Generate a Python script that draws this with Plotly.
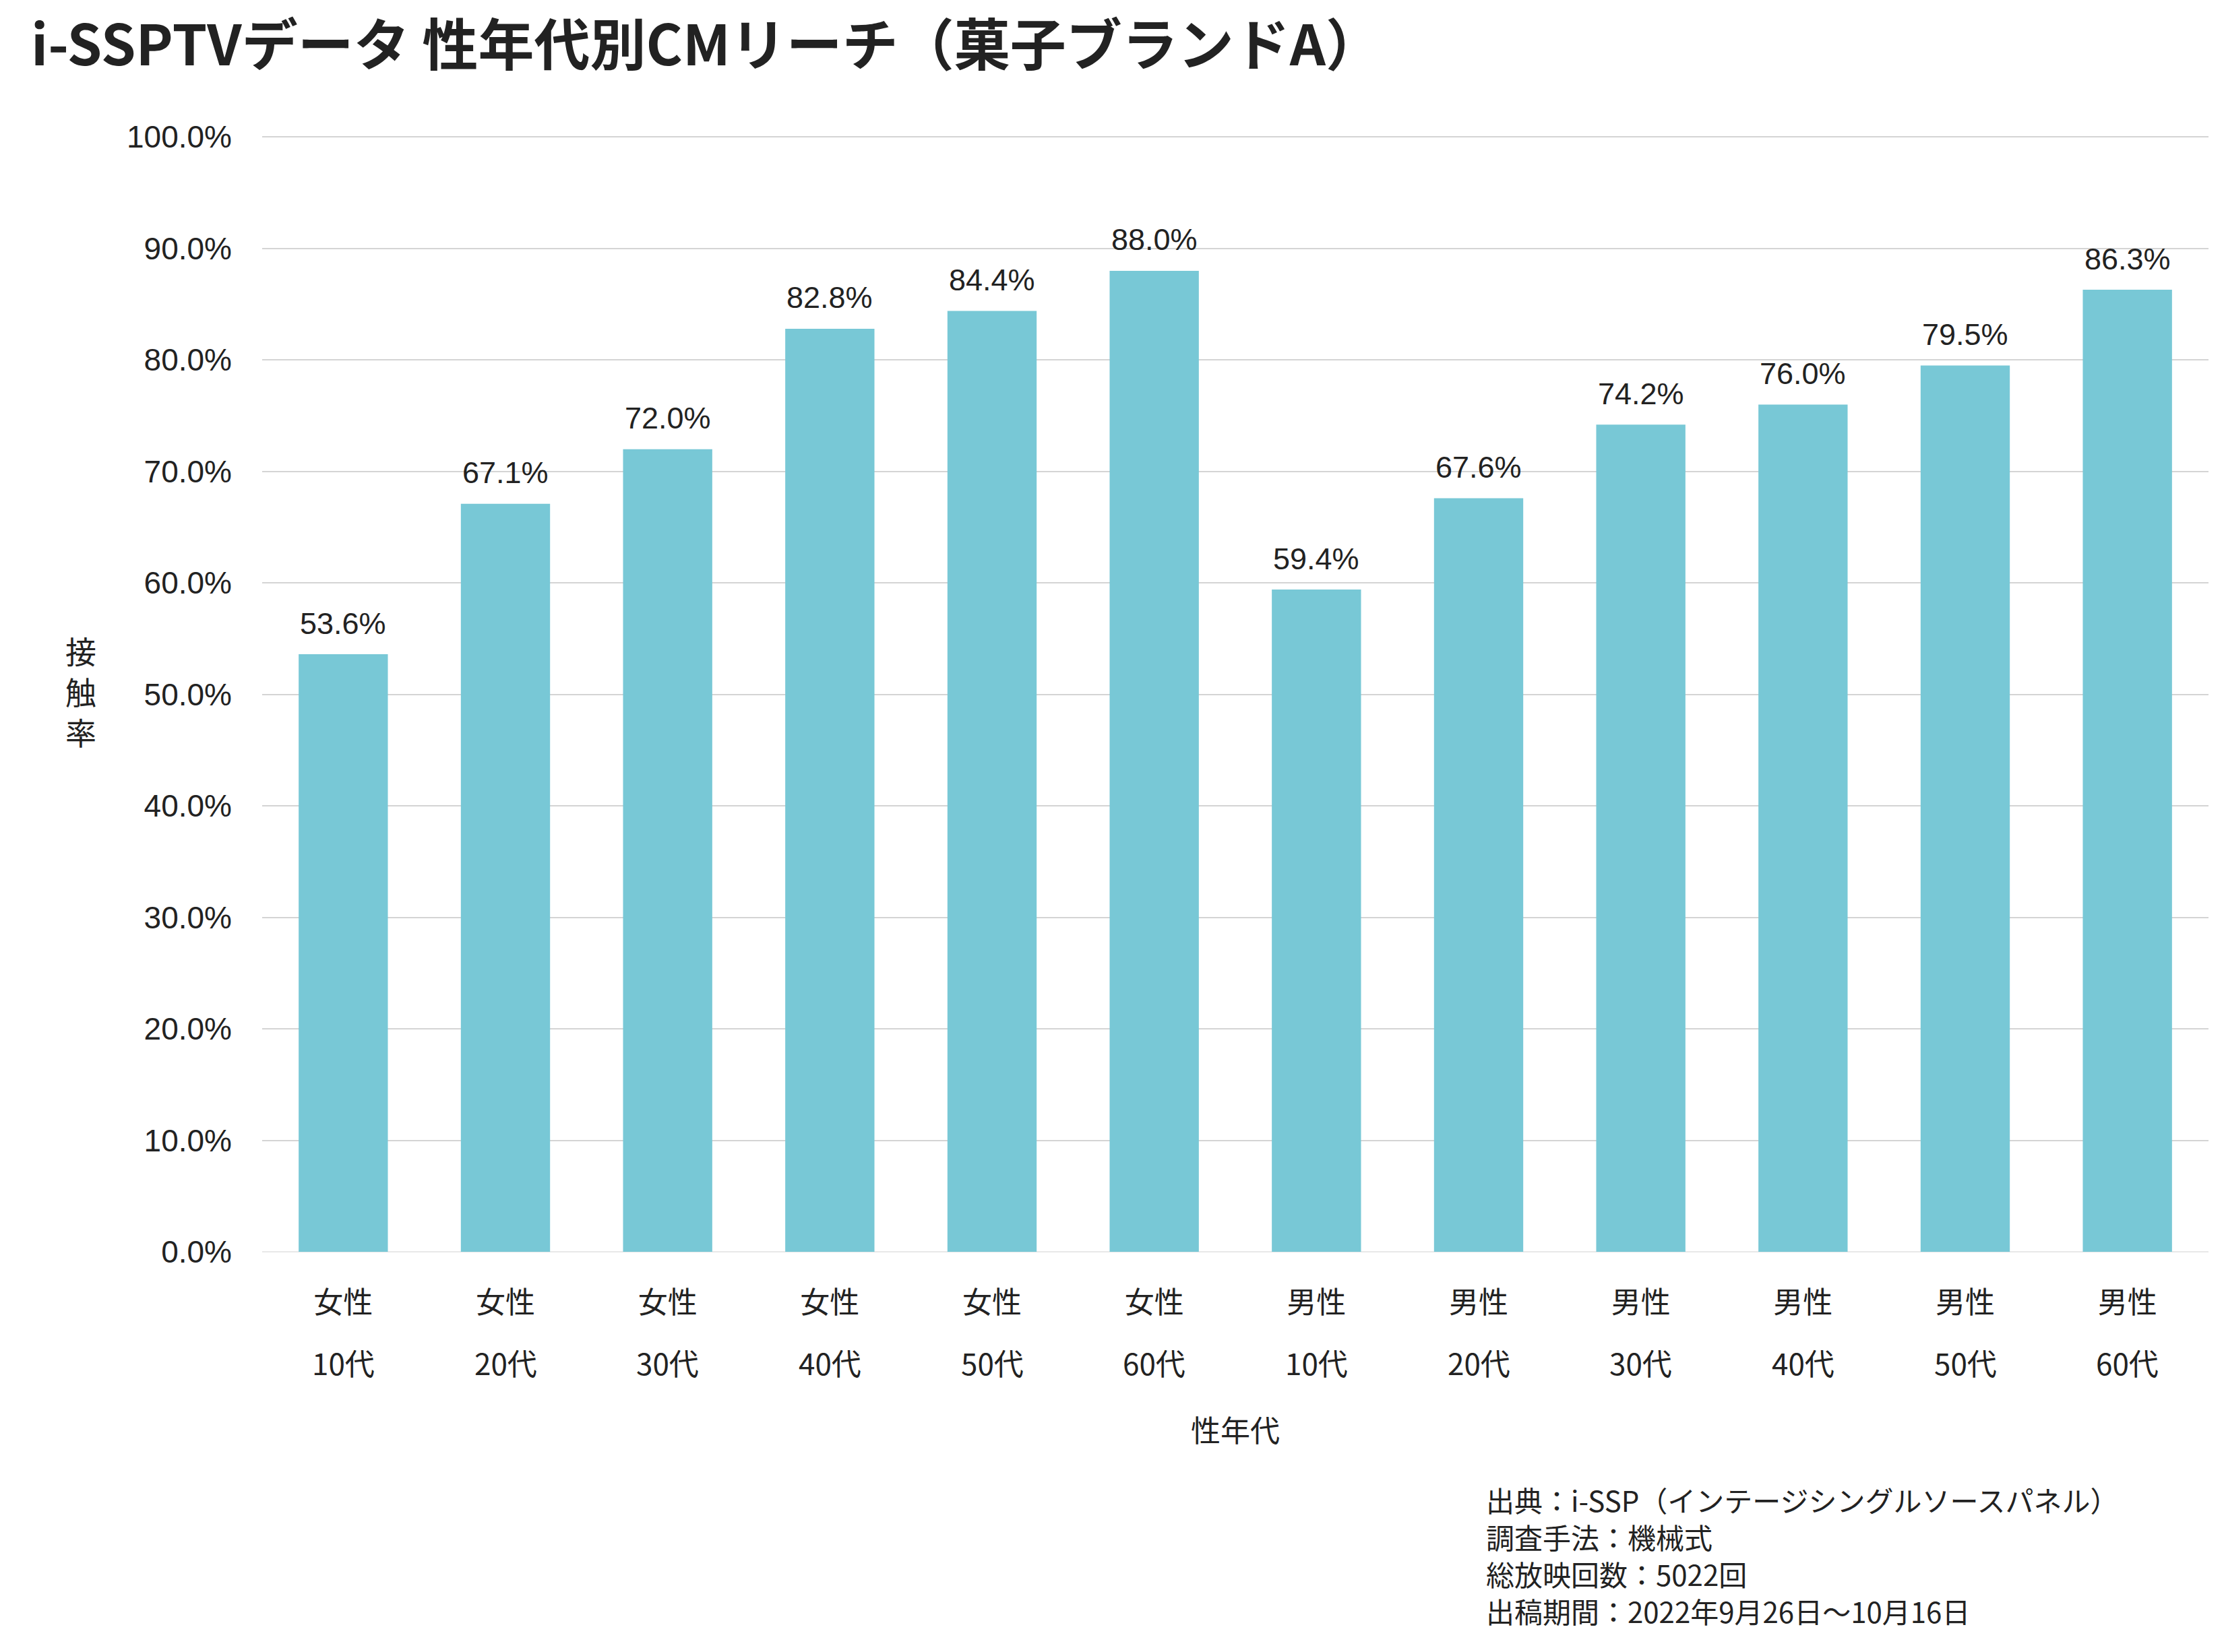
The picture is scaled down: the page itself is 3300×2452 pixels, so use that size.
import plotly.graph_objects as go

# ---- data ----
genders = ["女性", "女性", "女性", "女性", "女性", "女性",
           "男性", "男性", "男性", "男性", "男性", "男性"]
ages = ["10代", "20代", "30代", "40代", "50代", "60代",
        "10代", "20代", "30代", "40代", "50代", "60代"]
reach = [0.536, 0.671, 0.720, 0.828, 0.844, 0.880,
         0.594, 0.676, 0.742, 0.760, 0.795, 0.863]
y_ticks = [0.0, 0.1, 0.2, 0.3, 0.4, 0.5, 0.6, 0.7, 0.8, 0.9, 1.0]

title_text = "i-SSPTVデータ 性年代別CMリーチ（菓子ブランドA）"
x_title = "性年代"
y_title = "接触率"
footnote_lines = [
    "出典：i-SSP（インテージシングルソースパネル）",
    "調査手法：機械式",
    "総放映回数：5022回",
    "出稿期間：2022年9月26日～10月16日",
]

# ---- layout constants ----
W, H = 3300, 2452
L, R, T, B = 389, 23, 202, 594
plot_w = W - L - R
plot_h = H - T - B

def px_x(px):
    return (px - L) / plot_w

def px_y(py):
    return (H - B - py) / plot_h

cats = [f"{g}{a}" for g, a in zip(genders, ages)]

CJK = "Noto Sans CJK JP"
LAT = "Liberation Sans, Arial"
TXT = "#222222"
BAR = "#78C8D6"

fig = go.Figure()
fig.add_trace(go.Bar(
    x=cats, y=reach,
    marker=dict(color=BAR, line=dict(width=0)),
    width=0.55,
    hoverinfo="skip",
))

annotations = []
# value labels above bars
for c, v in zip(cats, reach):
    annotations.append(dict(
        x=c, y=v, xref="x", yref="y",
        text=f"{v*100:.1f}%", showarrow=False,
        yanchor="middle", yshift=46,
        font=dict(family=LAT, size=45, color=TXT),
    ))
# second line of category labels (age)
for c, a in zip(cats, ages):
    annotations.append(dict(
        x=c, y=px_y(2022), xref="x", yref="paper",
        text=a, showarrow=False, yanchor="middle",
        font=dict(family=CJK, size=44, color=TXT),
    ))
# x axis title
annotations.append(dict(
    x=0.5, y=px_y(2121), xref="paper", yref="paper",
    text=x_title, showarrow=False, yanchor="middle",
    font=dict(family=CJK, size=44, color=TXT),
))
# y axis title (stacked vertical)
annotations.append(dict(
    x=px_x(120), y=px_y(1025), xref="paper", yref="paper",
    text="<br>".join(list(y_title)), showarrow=False,
    xanchor="center", yanchor="middle",
    font=dict(family=CJK, size=46, color=TXT),
))
# footnote, one annotation per line
foot_y0 = 2225
foot_dy = 55
for i, line in enumerate(footnote_lines):
    annotations.append(dict(
        x=px_x(2203), y=px_y(foot_y0 + i * foot_dy), xref="paper", yref="paper",
        text=line, showarrow=False,
        xanchor="left", yanchor="middle", align="left",
        font=dict(family=CJK, size=42, color=TXT),
    ))

fig.update_layout(
    width=W, height=H,
    margin=dict(l=L, r=R, t=T, b=B, pad=0),
    paper_bgcolor="white", plot_bgcolor="white",
    showlegend=False,
    bargap=0.45,
    title=dict(
        text=f"<b>{title_text}</b>",
        x=46 / W, xanchor="left", xref="container",
        y=1 - 68 / H, yanchor="middle",
        font=dict(family=CJK, size=83, color=TXT),
    ),
    xaxis=dict(
        type="category",
        tickmode="array", tickvals=cats, ticktext=genders,
        tickfont=dict(family=CJK, size=44, color=TXT),
        ticks="", showgrid=False, showline=False, zeroline=False,
        ticklabelstandoff=46,
    ),
    yaxis=dict(
        range=[0, 1.0008],
        tickmode="array", tickvals=y_ticks,
        tickformat=".1%",
        tickfont=dict(family=LAT, size=46, color=TXT),
        ticks="", showline=False,
        showgrid=True, gridcolor="#D4D4D4", gridwidth=2,
        zeroline=True, zerolinecolor="#E8E8E8", zerolinewidth=2,
        ticklabelstandoff=44,
    ),
    annotations=annotations,
)

fig.write_html("out.html")
